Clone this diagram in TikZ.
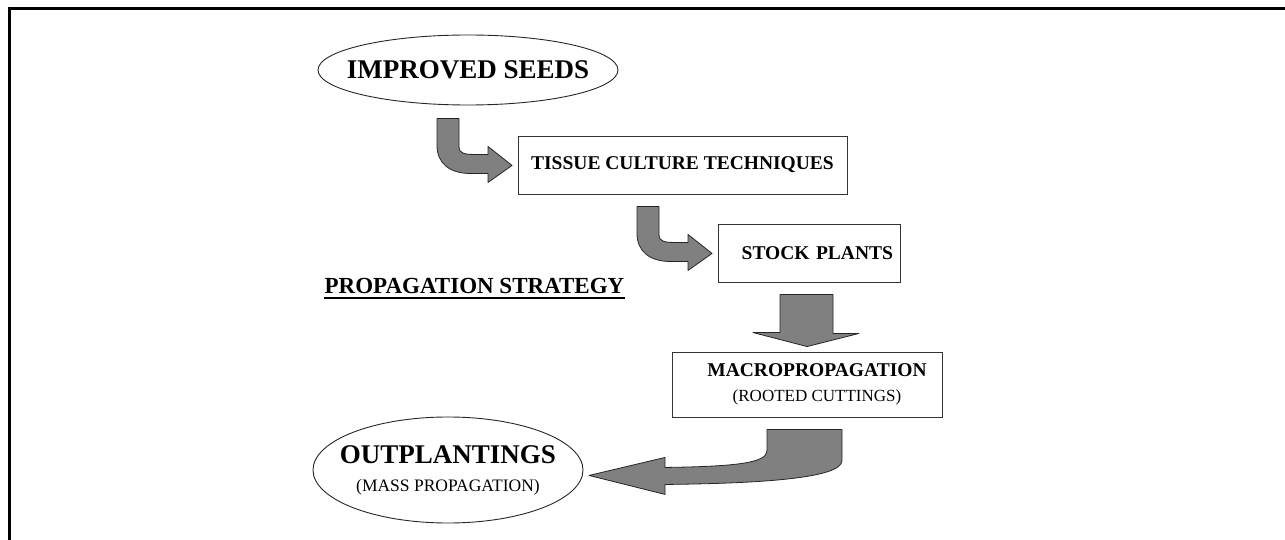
\documentclass[tikz,border=0pt]{standalone}
\usepackage{fontspec}
\setmainfont{Liberation Serif}
\usepackage{tikz}
\usetikzlibrary{shapes.geometric,calc}

\definecolor{arrowgray}{HTML}{808080}

\tikzset{
  blockarrow/.style={fill=arrowgray, draw=black!85, line width=0.8pt, line join=round},
  stepbox/.style={draw=black!80, line width=0.9pt, rectangle, inner sep=0pt},
  oval/.style={draw=black!85, line width=0.9pt, ellipse, inner ysep=0pt, inner xsep=-40pt},
  bendarrow/.pic={
    \draw[blockarrow] (0,0) -- (22,0) -- (22,29) .. controls (22,34) and (27,36) .. (36,36)
      -- (51,36) -- (51,28) -- (75,47) -- (51,64) -- (51,55) -- (33,55)
      .. controls (13,55) and (0,45) .. (0,27) -- cycle;
  }
}

\begin{document}
\begin{tikzpicture}[x=1pt,y=-1pt]
\useasboundingbox (0,0) rectangle (1285,540);
\draw[line width=3pt] (9,540) -- (9,9) -- (1285,9);

\node[oval, minimum width=300pt, minimum height=70pt, font=\bfseries\fontsize{27}{30}\selectfont] (seeds) at (468,70) {IMPROVED SEEDS};
\node[stepbox, minimum width=329pt, minimum height=58pt, font=\bfseries\fontsize{19.5}{22}\selectfont] (tissue) at (682.5,165) {TISSUE CULTURE TECHNIQUES};
\node[stepbox, minimum height=58pt, text width=168pt, inner xsep=7pt, align=right, font=\bfseries\fontsize{19.5}{22}\selectfont] (stock) at (809,253) {STOCK PLANTS};
\node[inner sep=0pt, font=\bfseries\fontsize{23}{26}\selectfont] (strategy) at (474.5,285.5) {PROPAGATION STRATEGY};
\draw[line width=2pt] ($(strategy.base west)+(0,5)$) -- ($(strategy.base east)+(0,5)$);
\node[stepbox, minimum width=270pt, minimum height=65pt, align=center, font=\fontsize{17}{25}\selectfont] (macro) at (807,384.5)
  {\hspace*{20pt}{\bfseries\fontsize{19.5}{25}\selectfont MACROPROPAGATION}\\\hspace*{20pt}(ROOTED CUTTINGS)};
\node[oval, minimum width=270pt, minimum height=106pt, align=center, font=\fontsize{17.5}{28}\selectfont] (outplant) at (448,470)
  {{\bfseries\fontsize{27}{28}\selectfont OUTPLANTINGS}\\(MASS PROPAGATION)};

% block arrows
\pic at ($(seeds.south)+(-31,13)$) {bendarrow};
\pic at ($(tissue.south)+(-45.5,12)$) {bendarrow};
\draw[blockarrow] ($(stock.south)+(-29,12)$) -- ++(53,0) -- ++(0,39) -- ++(26,0)
  -- ($(macro.north)+(0,-5)$) -- ++(-54,-14) -- ++(27,0) -- cycle;
\begin{scope}[shift={($(macro.south)+(-40,12)$)}]
\draw[blockarrow] (0,0) -- (75,0) -- (75,31) .. controls (75,49) and (-7,54) .. (-102,55)
  -- (-102,65) -- (-178,46) -- (-102,28) -- (-102,38)
  .. controls (-27,37) and (0,33) .. (0,21) -- cycle;
\end{scope}
\end{tikzpicture}
\end{document}
